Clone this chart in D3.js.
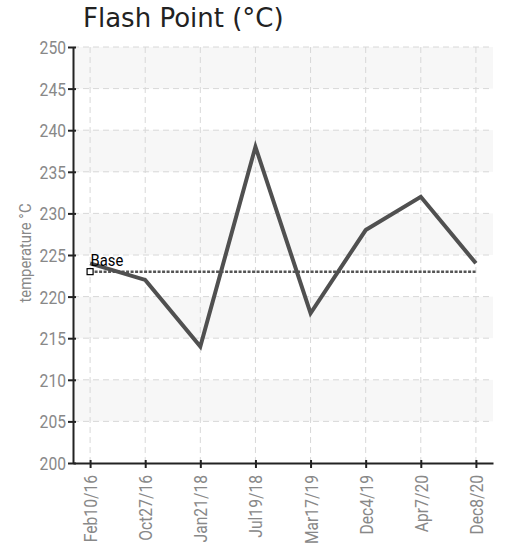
<!DOCTYPE html>
<html>
<head>
<meta charset="utf-8">
<script src="https://cdn.jsdelivr.net/npm/d3@7"></script>
<style>
  body { margin: 0; background: #fff; }
  .tick text { font-family: "Roboto", "DejaVu Sans Condensed", sans-serif; }
</style>
</head>
<body>
<div id="chart"></div>
<script>
// data
var dates = ["Feb10/16", "Oct27/16", "Jan21/18", "Jul19/18", "Mar17/19", "Dec4/19", "Apr7/20", "Dec8/20"];
var flashPoint = [224, 222, 214, 238, 218, 228, 232, 224];
var baseValue = 223;
var yTicks = [200, 205, 210, 215, 220, 225, 230, 235, 240, 245, 250];

var margin = { top: 47, right: 13, bottom: 82, left: 73 },
  width = 506 - margin.left - margin.right,
  height = 545 - margin.top - margin.bottom;

var narrow = 0.87; // squeeze to mimic the condensed face

var svg = d3.select("#chart")
  .append("svg")
  .attr("width", 506)
  .attr("height", 545);

// title
svg.append("text")
  .attr("x", 83)
  .attr("y", 27)
  .style("font-family", "DejaVu Sans, sans-serif")
  .style("font-size", "26px")
  .style("fill", "#222")
  .text("Flash Point (\u00B0C)");

var g = svg.append("g")
  .attr("transform", "translate(" + margin.left + "," + margin.top + ")");

var xScale = d3.scalePoint()
  .domain(dates)
  .range([0, width])
  .padding(0.31);

var yScale = d3.scaleLinear()
  .domain([200, 250])
  .range([height, 0]);

// alternating bands
for (var i = 0; i < yTicks.length - 1; i++) {
  if ((yTicks.length - 2 - i) % 2 === 0) {
    g.append("rect")
      .attr("x", 0)
      .attr("y", yScale(yTicks[i + 1]))
      .attr("width", width)
      .attr("height", yScale(yTicks[i]) - yScale(yTicks[i + 1]))
      .attr("fill", "#f7f7f7");
  }
}

// grid
g.selectAll(".hgrid")
  .data(yTicks.slice(1))
  .enter()
  .append("line")
  .attr("x1", 0)
  .attr("x2", width)
  .attr("y1", function(d) { return yScale(d); })
  .attr("y2", function(d) { return yScale(d); })
  .attr("stroke", "#d8d8d8")
  .attr("stroke-width", 1)
  .attr("stroke-dasharray", "6,4");

g.selectAll(".vgrid")
  .data(dates)
  .enter()
  .append("line")
  .attr("x1", function(d) { return xScale(d); })
  .attr("x2", function(d) { return xScale(d); })
  .attr("y1", 0)
  .attr("y2", height)
  .attr("stroke", "#d8d8d8")
  .attr("stroke-width", 1)
  .attr("stroke-dasharray", "6,4");

// base line
var baseLine = d3.line()
  .x(function(d) { return xScale(d); })
  .y(function() { return yScale(baseValue); });

g.append("path")
  .datum([dates[0], dates[dates.length - 1]])
  .attr("d", baseLine)
  .attr("fill", "none")
  .attr("stroke", "#555")
  .attr("stroke-width", 2.5)
  .attr("stroke-dasharray", "3,1.5");

// main line
var line = d3.line()
  .x(function(d, i) { return xScale(dates[i]); })
  .y(function(d) { return yScale(d); });

g.append("path")
  .datum(flashPoint)
  .attr("d", line)
  .attr("fill", "none")
  .attr("stroke", "#505050")
  .attr("stroke-width", 4)
  .attr("stroke-linejoin", "miter");

// base marker and label
g.append("rect")
  .attr("x", xScale(dates[0]) - 3)
  .attr("y", yScale(baseValue) - 3)
  .attr("width", 6)
  .attr("height", 6)
  .attr("fill", "#fff")
  .attr("stroke", "#000")
  .attr("stroke-width", 1.2);

g.append("text")
  .attr("transform", "translate(" + (xScale(dates[0]) + 0.5) + "," + (yScale(baseValue) - 6) + ") scale(" + narrow + ",1)")
  .style("font-family", "Roboto, sans-serif")
  .style("font-size", "17px")
  .style("fill", "#000")
  .text("Base");

// axes
var yAxis = g.append("g")
  .call(d3.axisLeft(yScale).tickValues(yTicks).tickSizeInner(5).tickSizeOuter(0));
yAxis.select(".domain").attr("stroke", "#222").attr("stroke-width", 2);
yAxis.selectAll(".tick line").attr("stroke", "#222").attr("stroke-width", 2).attr("x2", -5).attr("x1", 3);
yAxis.selectAll(".tick text")
  .style("font-size", "18px")
  .style("fill", "#888")
  .attr("text-anchor", "end")
  .attr("x", 0)
  .attr("dy", "0.36em")
  .attr("transform", "translate(-7,0) scale(" + narrow + ",1)");

var xAxis = g.append("g")
  .attr("transform", "translate(0," + height + ")")
  .call(d3.axisBottom(xScale).tickSizeInner(5).tickSizeOuter(0));
xAxis.select(".domain").attr("stroke", "#222").attr("stroke-width", 2);
xAxis.selectAll(".tick line").attr("stroke", "#222").attr("stroke-width", 2).attr("y1", -3).attr("y2", 5);
xAxis.selectAll(".tick text")
  .style("font-size", "18px")
  .style("fill", "#888")
  .attr("text-anchor", "end")
  .attr("x", 0)
  .attr("y", 0)
  .attr("dy", "0.36em")
  .attr("transform", "translate(0,12) rotate(-90) scale(" + narrow + ",1)");

// y axis label
svg.append("text")
  .attr("transform", "translate(31,253) rotate(-90) scale(" + narrow + ",1)")
  .attr("text-anchor", "middle")
  .style("font-family", "Roboto, sans-serif")
  .style("font-size", "17px")
  .style("fill", "#888")
  .text("temperature \u00B0C");
</script>
</body>
</html>
